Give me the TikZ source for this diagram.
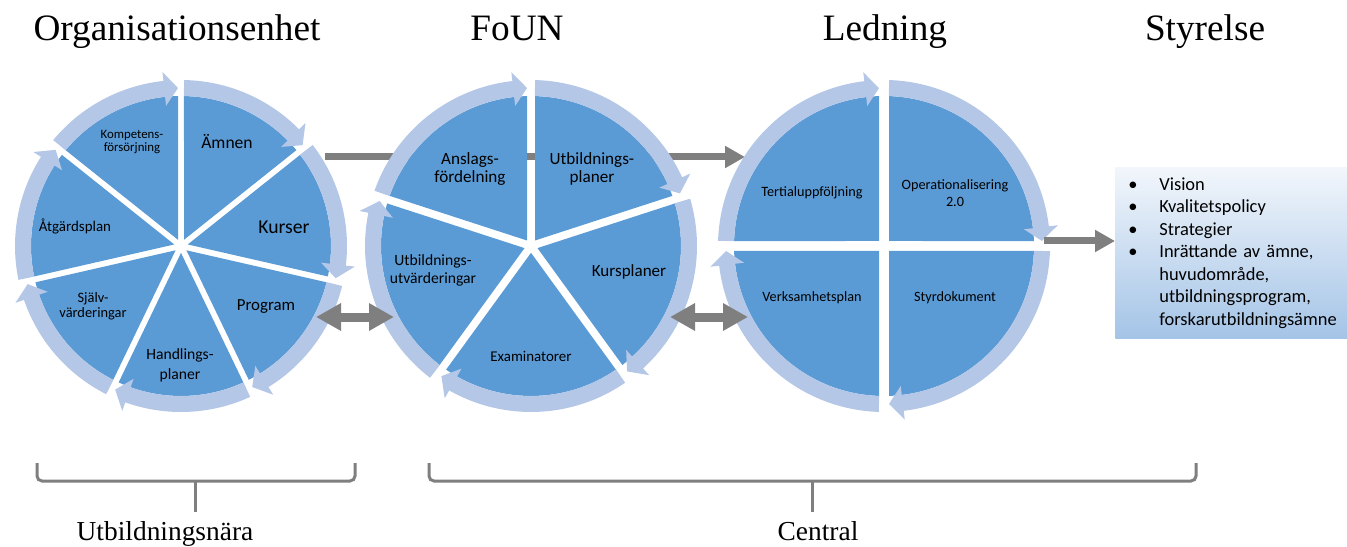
\documentclass[tikz,border=0pt]{standalone}
\usepackage{fontspec}
\setmainfont{Carlito}
\newfontfamily\titlefont{Liberation Serif}
\usetikzlibrary{arrows.meta}

\definecolor{pieblue}{RGB}{91,155,213}
\definecolor{ringblue}{RGB}{180,199,231}
\definecolor{flowgray}{RGB}{127,127,127}
\definecolor{boxtop}{RGB}{242,246,251}
\definecolor{boxbottom}{RGB}{164,196,231}

% one wheel: #1 segments, #2 gap, #3 centre
\newcommand{\drawcycle}[3]{%
  \begin{scope}[shift={#3}]
    \pgfmathsetmacro{\cstep}{360/#1}
    \pgfmathsetmacro{\ccorner}{(#2/2)/sin(\cstep/2)}
    \pgfmathsetmacro{\cpie}{asin((#2/2)/150)}
    \pgfmathsetmacro{\cring}{asin((#2/2)/158)}
    \foreach \k in {1,...,#1} {
      \pgfmathsetmacro{\segA}{90-(\k-1)*\cstep}
      \pgfmathsetmacro{\segB}{90-\k*\cstep}
      \fill[pieblue] ({\segA-\cstep/2}:\ccorner) -- ({\segA-\cpie}:150)
        arc[start angle=\segA-\cpie, end angle=\segB+\cpie, radius=150] -- cycle;
      \fill[ringblue] ({\segA-\cring}:166)
        arc[start angle=\segA-\cring, end angle=\segB+\cring+5, radius=166]
        -- ({\segB+\cring+5}:175) -- ({\segB+\cring}:158) -- ({\segB+\cring+5}:141)
        -- ({\segB+\cring+5}:150)
        arc[start angle=\segB+\cring+5, end angle=\segA-\cring, radius=150] -- cycle;
    }
  \end{scope}}

\newcommand{\itm}{\makebox[6.2mm][l]{\textbullet}}

\begin{document}
\begin{tikzpicture}[x=0.2mm,y=0.2mm,
    title/.style={font=\titlefont\fontsize{21.2}{25}\selectfont, anchor=base},
    group/.style={font=\titlefont\fontsize{15.6}{18}\selectfont, anchor=base},
    seg/.style={align=center, inner sep=0pt},
    flow/.style={draw=flowgray, line width=1.4mm, -{Triangle[length=4mm,width=4.2mm]}},
    biflow/.style={draw=flowgray, line width=1.8mm,
      {Triangle[length=5mm,width=5.2mm]}-{Triangle[length=5mm,width=5.2mm]}},
    brace/.style={draw=flowgray, line width=0.6mm, rounded corners=1mm},
    box/.style={anchor=west, minimum height=34mm, inner xsep=2.6mm, text width=43.8mm,
      align=left, top color=boxtop, bottom color=boxbottom,
      font=\fontsize{10.5}{12.8}\selectfont}]
  \useasboundingbox (0,0) rectangle (1347,546);

  % titles
  \node[title] (orgtitle) at (177,505) {Organisationsenhet};
  \node[title] (founttitle) at (517,505) {FoUN};
  \node[title] (ledtitle) at (885,505) {Ledning};
  \node[title] (styrtitle) at (1205,505) {Styrelse};

  % connectors behind the wheels
  \coordinate (org-out) at (325,389);
  \coordinate (led-in) at (745,389);
  \coordinate (led-out) at (1044,305);
  \draw[flow] (org-out) -- (led-in);

  \drawcycle{7}{6}{(181,300)}
  \drawcycle{5}{8}{(531,300)}
  \drawcycle{4}{10}{(884,300)}

  % Organisationsenhet
  \node[seg, font=\fontsize{10}{12}\selectfont] (amnen) at (227,404) {Ämnen};
  \node[seg, font=\fontsize{11.2}{13}\selectfont] (kurser) at (284,319) {Kurser};
  \node[seg, font=\fontsize{9.6}{11}\selectfont] (program) at (266,239) {Program};
  \node[seg, font=\fontsize{8.9}{11.4}\selectfont] (handling) at (180,181) {Handlings-\\planer};
  \node[seg, font=\fontsize{8.2}{8.6}\selectfont] (sjalv) at (93,240) {Själv-\\värderingar};
  \node[seg, font=\fontsize{8.5}{10}\selectfont] (atgard) at (75,320) {Åtgärdsplan};
  \node[seg, font=\fontsize{7.3}{7.6}\selectfont] (kompetens) at (132,404) {Kompetens-\\försörjning};

  % FoUN
  \node[seg, font=\fontsize{9.75}{10.4}\selectfont] (anslag) at (470,377) {Anslags-\\fördelning};
  \node[seg, font=\fontsize{9.75}{10.4}\selectfont] (utbplan) at (592,377) {Utbildnings-\\planer};
  \node[seg, font=\fontsize{9.7}{11}\selectfont] (kursplan) at (629,274) {Kursplaner};
  \node[seg, font=\fontsize{8.5}{10}\selectfont] (examinator) at (531,190) {Examinatorer};
  \node[seg, font=\fontsize{8.9}{10.2}\selectfont] (utbutv) at (433,276) {Utbildnings-\\utvärderingar};

  % Ledning
  \node[seg, font=\fontsize{8.1}{9.5}\selectfont] (tertial) at (812,353) {Tertialuppföljning};
  \node[seg, font=\fontsize{8.1}{9.5}\selectfont] (operation) at (955,353) {Operationalisering\\2.0};
  \node[seg, font=\fontsize{8.1}{9.5}\selectfont] (verksamhet) at (812,248) {Verksamhetsplan};
  \node[seg, font=\fontsize{8.1}{9.5}\selectfont] (styrdok) at (955,248) {Styrdokument};

  % Styrelse
  \node[box] (styr) at (1115,293) {\itm Vision\\ \itm Kvalitetspolicy\\ \itm Strategier\\
    \itm Inrättande av ämne,\\ \hspace*{6.2mm}huvudområde,\\
    \hspace*{6.2mm}utbildningsprogram,\\ \hspace*{6.2mm}forskarutbildningsämne};
  \draw[flow] (led-out) -- (led-out -| styr.west);

  % two-way connectors
  \coordinate (org-r) at (316,229);
  \coordinate (foun-l) at (394,229);
  \coordinate (foun-r) at (670,229);
  \coordinate (led-l) at (748,229);
  \draw[biflow] (org-r) -- (foun-l);
  \draw[biflow] (foun-r) -- (led-l);

  % braces
  \draw[brace] (37,83) -- (37,65) -- (355,65) -- (355,83);
  \draw[brace] (195,65) -- (195,34);
  \draw[brace] (429,83) -- (429,65) -- (1196,65) -- (1196,83);
  \draw[brace] (812,65) -- (812,34);
  \node[group] (utbnara) at (165,6) {Utbildningsnära};
  \node[group] (central) at (818,6) {Central};
\end{tikzpicture}
\end{document}
